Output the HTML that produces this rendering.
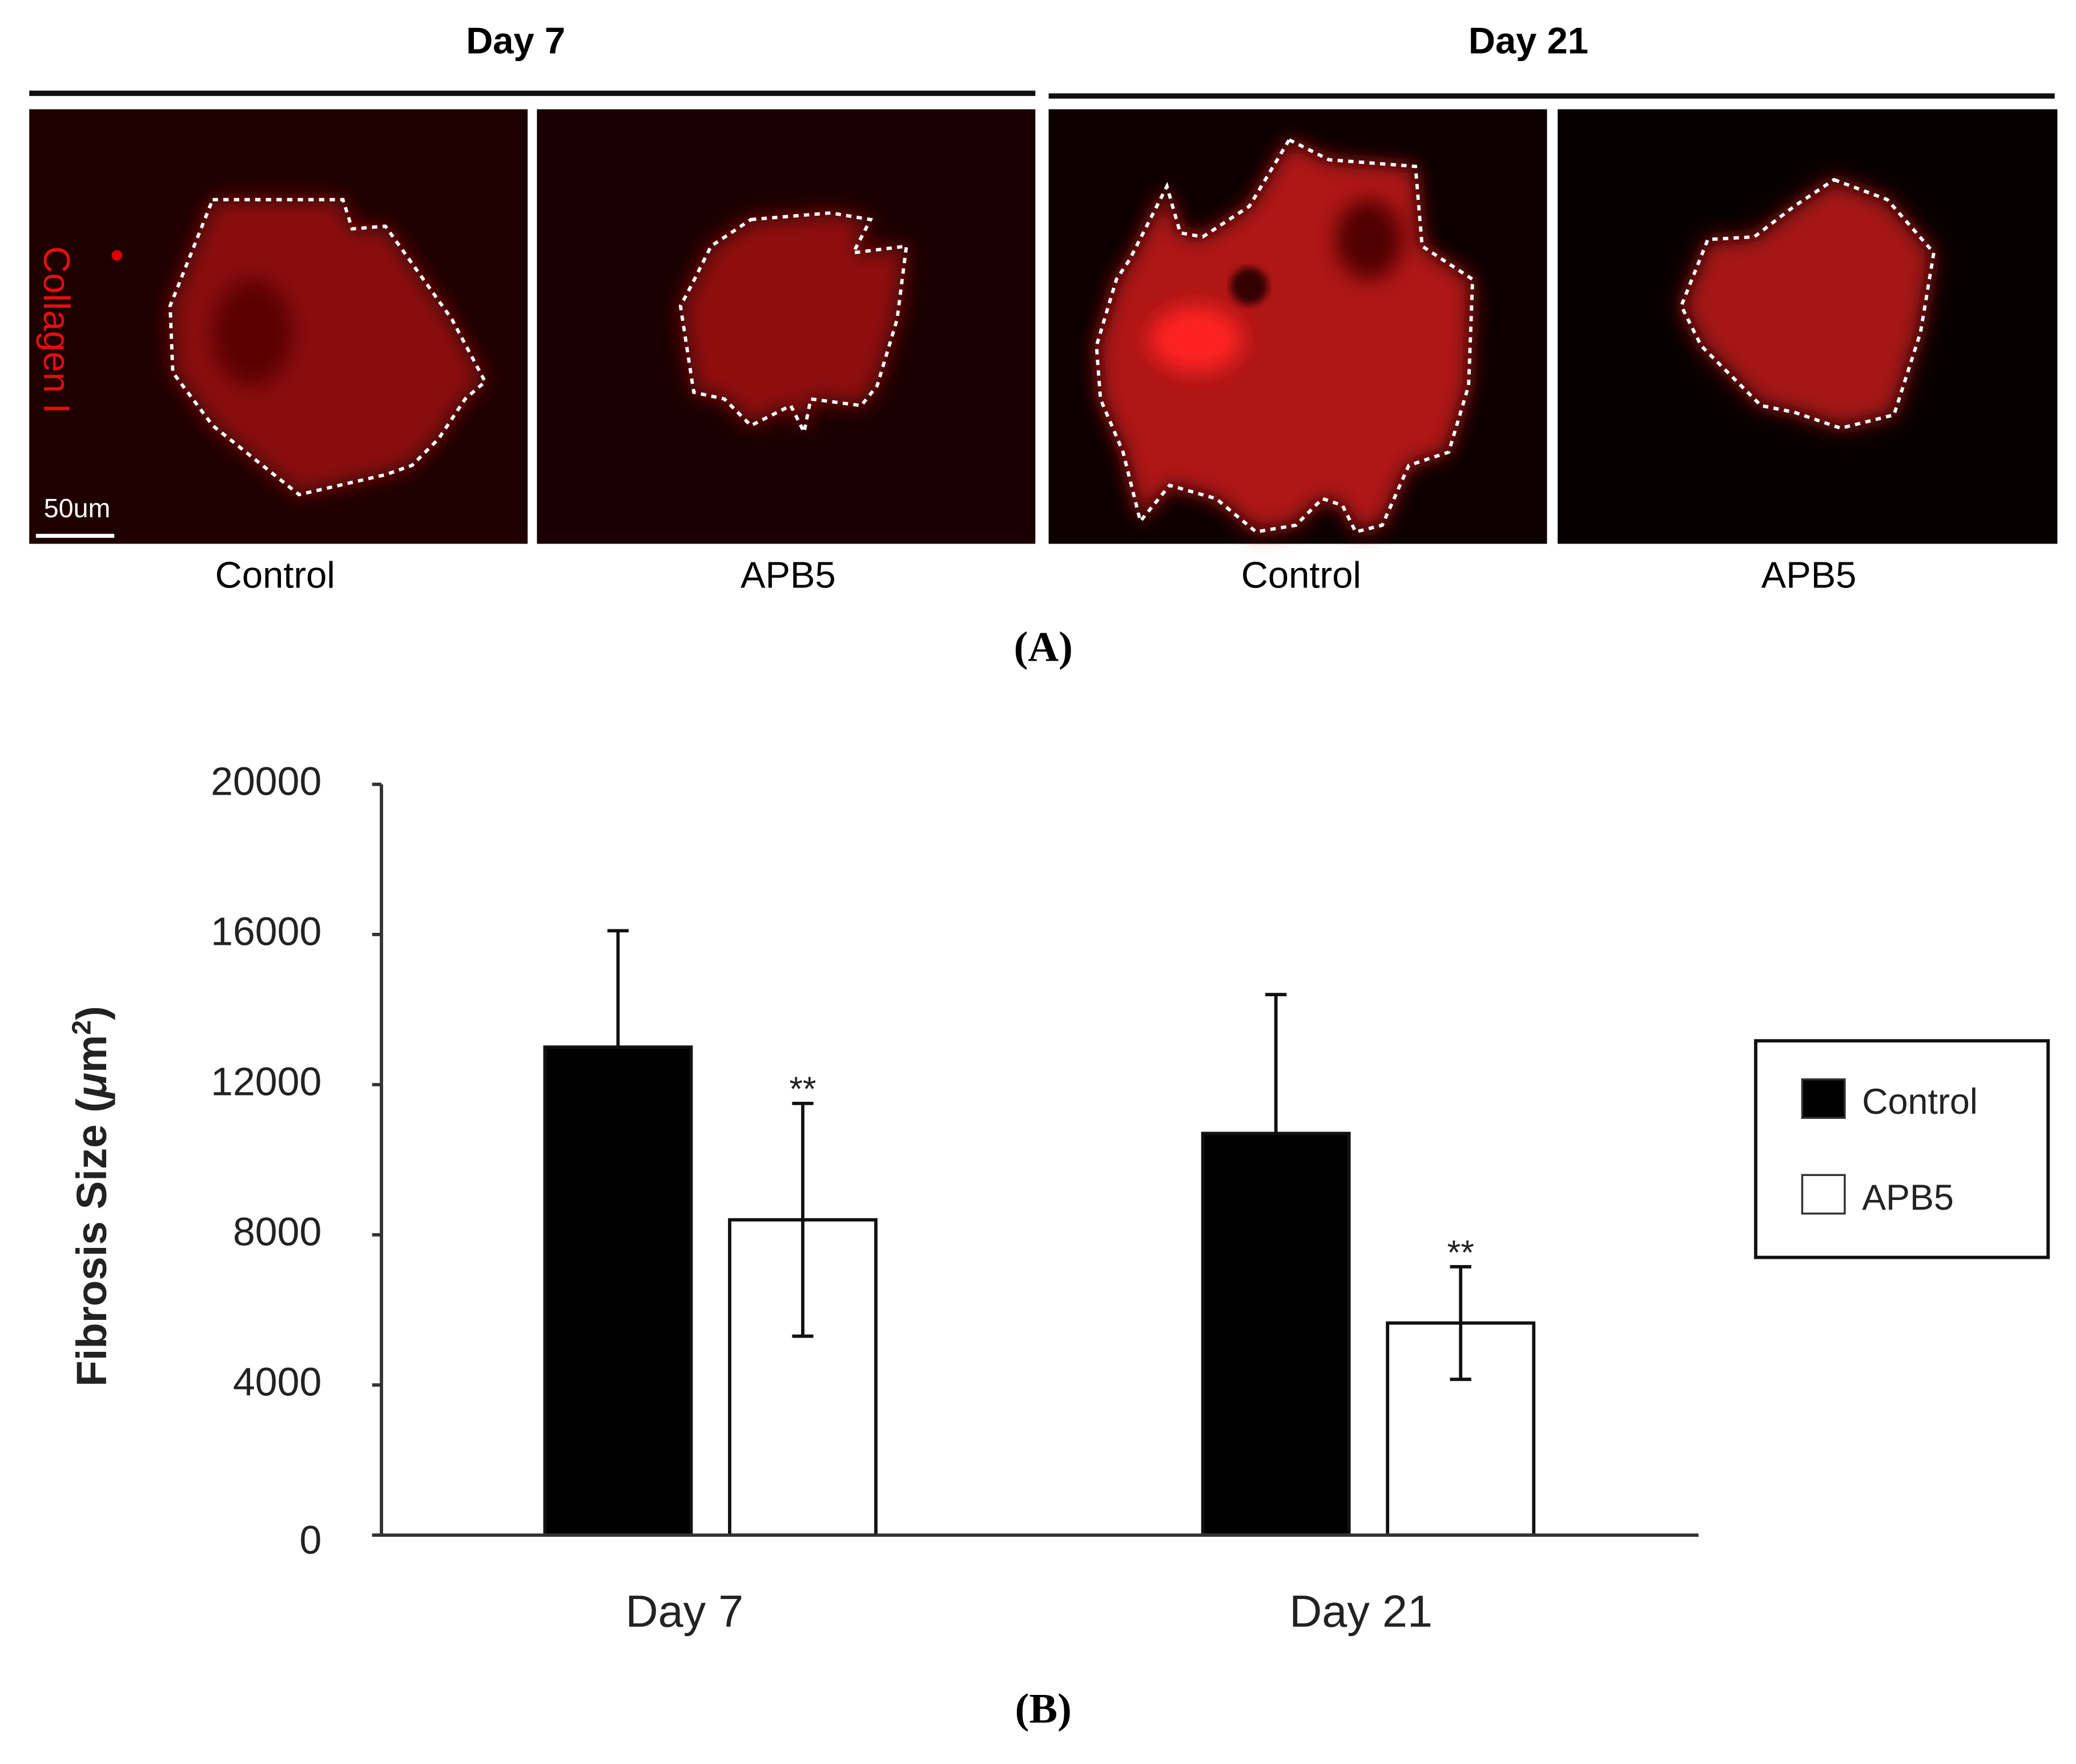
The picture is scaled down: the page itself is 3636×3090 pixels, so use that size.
<!DOCTYPE html>
<html><head><meta charset="utf-8"><style>
html,body{margin:0;padding:0;background:#fff;}
svg{display:block;}
text{font-family:"Liberation Sans",Arial,sans-serif;}
</style></head><body>
<svg id="fig" width="3636" height="3090" viewBox="0 0 1562 1327" xmlns="http://www.w3.org/2000/svg">
<defs>
<filter id="blur8" x="-30%" y="-30%" width="160%" height="160%"><feGaussianBlur stdDeviation="8"/></filter>
<filter id="blur3"><feGaussianBlur stdDeviation="3"/></filter>
</defs>
<g id="panelA">
<text x="388" y="40" font-size="28" font-weight="bold" text-anchor="middle">Day 7</text>
<text x="1150" y="40" font-size="28" font-weight="bold" text-anchor="middle">Day 21</text>
<line x1="22" y1="70" x2="779" y2="70" stroke="#111" stroke-width="4"/>
<line x1="789" y1="72" x2="1546" y2="72" stroke="#111" stroke-width="4"/>

<g>
<rect x="22" y="82" width="375" height="327" fill="#1e0000"/>
<polygon points="160,150 258,150 265,172 290,170 340,240 365,287 350,300 330,330 310,350 290,357 225,372 160,320 130,280 128,230 140,200" fill="#8a0c0c" filter="url(#blur8)"/>
<ellipse cx="190" cy="250" rx="30" ry="40" fill="#5a0505" filter="url(#blur8)"/>
<polygon points="160,150 258,150 265,172 290,170 340,240 365,287 350,300 330,330 310,350 290,357 225,372 160,320 130,280 128,230 140,200" fill="none" stroke="#fff" stroke-width="2.5" stroke-dasharray="4,4"/>
<text x="0" y="0" transform="translate(33,185) rotate(90)" font-size="28" fill="#e01010">Collagen I</text>
<circle cx="88" cy="192" r="4" fill="#d00"/>
<text x="33" y="389" font-size="20" fill="#fff">50um</text>
<line x1="27" y1="403" x2="86" y2="403" stroke="#fff" stroke-width="3"/>
</g>
<g>
<rect x="404" y="82" width="375" height="327" fill="#1a0000"/>
<polygon points="565,165 625,160 655,165 642,190 682,185 675,240 660,290 648,305 610,300 605,325 595,305 565,320 545,300 522,295 512,230 520,215 535,185" fill="#900e0e" filter="url(#blur8)"/>
<polygon points="565,165 625,160 655,165 642,190 682,185 675,240 660,290 648,305 610,300 605,325 595,305 565,320 545,300 522,295 512,230 520,215 535,185" fill="none" stroke="#fff" stroke-width="2.5" stroke-dasharray="4,4"/>
</g>
<g>
<rect x="789" y="82" width="375" height="327" fill="#0c0000"/>
<polygon points="970,105 1000,120 1065,125 1070,185 1108,210 1105,290 1090,340 1060,350 1040,395 1020,400 1010,380 995,375 975,395 945,400 915,375 880,365 858,392 845,340 828,300 825,260 840,210 850,195 878,140 888,175 905,178 940,155" fill="#b01515" filter="url(#blur8)"/>
<ellipse cx="900" cy="255" rx="35" ry="25" fill="#ff2020" filter="url(#blur8)"/>
<ellipse cx="940" cy="215" rx="14" ry="14" fill="#300000" filter="url(#blur3)"/>
<ellipse cx="1030" cy="180" rx="25" ry="30" fill="#500404" filter="url(#blur8)"/>
<polygon points="970,105 1000,120 1065,125 1070,185 1108,210 1105,290 1090,340 1060,350 1040,395 1020,400 1010,380 995,375 975,395 945,400 915,375 880,365 858,392 845,340 828,300 825,260 840,210 850,195 878,140 888,175 905,178 940,155" fill="none" stroke="#fff" stroke-width="2.5" stroke-dasharray="4,4"/>
</g>
<g>
<rect x="1172" y="82" width="376" height="327" fill="#080000"/>
<polygon points="1380,135 1420,150 1455,190 1445,250 1425,312 1385,322 1350,310 1325,305 1310,290 1280,260 1265,230 1285,180 1320,178 1333,168 1350,155" fill="#a51414" filter="url(#blur8)"/>
<polygon points="1380,135 1420,150 1455,190 1445,250 1425,312 1385,322 1350,310 1325,305 1310,290 1280,260 1265,230 1285,180 1320,178 1333,168 1350,155" fill="none" stroke="#fff" stroke-width="2.5" stroke-dasharray="4,4"/>
</g>
<text x="207" y="442" font-size="28" text-anchor="middle">Control</text>
<text x="593" y="442" font-size="28" text-anchor="middle">APB5</text>
<text x="979" y="442" font-size="28" text-anchor="middle">Control</text>
<text x="1361" y="442" font-size="28" text-anchor="middle">APB5</text>
<text x="785" y="497" font-size="32" font-weight="bold" text-anchor="middle" style="font-family:'Liberation Serif',serif">(A)</text>
</g>

<g id="chart"></g>
<text x="785" y="1296" font-size="32" font-weight="bold" text-anchor="middle" style="font-family:'Liberation Serif',serif">(B)</text>
</svg>
<script>
const categories = ["Day 7", "Day 21"];
const seriesNames = ["Control", "APB5"];
const controlValues = [13000, 10700];
const controlErrors = [3100, 3700];
const apb5Values = [8400, 5650];
const apb5Errors = [3100, 1500];
const tickValues = [0, 4000, 8000, 12000, 16000, 20000];
const tickLabels = ["0", "4000", "8000", "12000", "16000", "20000"];
const significance = ["**", "**"];

const NS = "http://www.w3.org/2000/svg";
const g = document.getElementById("chart");
const y0 = 1155, yTop = 590, yMax = 20000;
function yScale(v){ return y0 - (v / yMax) * (y0 - yTop); }
const groupCenters = [535, 1030];
function xBar(ci, si){ return groupCenters[ci] - 125 + si * 139; }
const barW = 110;
function mk(tag, attrs){ const e = document.createElementNS(NS, tag); for (const k in attrs) e.setAttribute(k, attrs[k]); g.appendChild(e); return e; }

let ax = mk("line", {x1:287, y1:yScale(yMax), x2:287, y2:y0, stroke:"#333", "stroke-width":2.5});


tickValues.forEach((v, i) => {
  const y = yScale(v);
  const t = mk("line", {x1:280, y1:y, x2:287, y2:y, stroke:"#333", "stroke-width":2.5});
  
  
  const lab = mk("text", {x:242, y: y + 8 + (v === 0 ? 6 : 0), "font-size":30, "text-anchor":"end", fill:"#222"});
  lab.textContent = tickLabels[i];
  
  
});
const yt = mk("text", {x:0, y:0, transform:"translate(80,900) rotate(-90)", "font-size":32, "font-weight":"bold", "text-anchor":"middle", fill:"#222"});
yt.innerHTML = 'Fibrosis Size (<tspan font-style="italic">μ</tspan>m<tspan font-size="20" dy="-12">2</tspan><tspan dy="12">)</tspan>';



function drawBar(ci, si, v, err, fill){
  const x = xBar(ci, si), top = yScale(v);
  const b = mk("rect", {x:x, y:top, width:barW, height:y0 - top, fill:fill, stroke:"#111", "stroke-width":2.5});
  
  
  const cx = x + barW / 2;
  const eTop = yScale(v + err), eBot = yScale(v - err);
  const e = mk("line", {x1:cx, y1:eTop, x2:cx, y2: si === 0 ? top : eBot, stroke:"#111", "stroke-width":2.5});
  
  
  const c1 = mk("line", {x1:cx-8, y1:eTop, x2:cx+8, y2:eTop, stroke:"#111", "stroke-width":2.5});
  
  
  if (si === 1) {
    const c2 = mk("line", {x1:cx-8, y1:eBot, x2:cx+8, y2:eBot, stroke:"#111", "stroke-width":2.5});
    
    
    const s = mk("text", {x:cx, y:eTop - 2, "font-size":26, "text-anchor":"middle", fill:"#222"});
    s.textContent = significance[ci];
    
    
  }
}
categories.forEach((c, ci) => {
  drawBar(ci, 0, controlValues[ci], controlErrors[ci], "#000");
  drawBar(ci, 1, apb5Values[ci], apb5Errors[ci], "#fff");
  const l = mk("text", {x:groupCenters[ci] - 20 + ci*14, y:1224, "font-size":34, "text-anchor":"middle", fill:"#222"});
  l.textContent = c;
  
  
});
let xa = mk("line", {x1:280, y1:y0, x2:1278, y2:y0, stroke:"#333", "stroke-width":2.5});



const lb = mk("rect", {x:1321, y:783, width:220, height:163, fill:"#fff", stroke:"#111", "stroke-width":2.5});


const fills = ["#000", "#fff"];
const legY = [812, 884];
seriesNames.forEach((n, i) => {
  const sw = mk("rect", {x:1356, y:legY[i], width:32, height:29, fill:fills[i], stroke:"#333", "stroke-width":1.5});
  
  
  const t = mk("text", {x:1401, y:legY[i] + 26, "font-size":27, fill:"#222"});
  t.textContent = n;
  
  
});
</script>
</body></html>
